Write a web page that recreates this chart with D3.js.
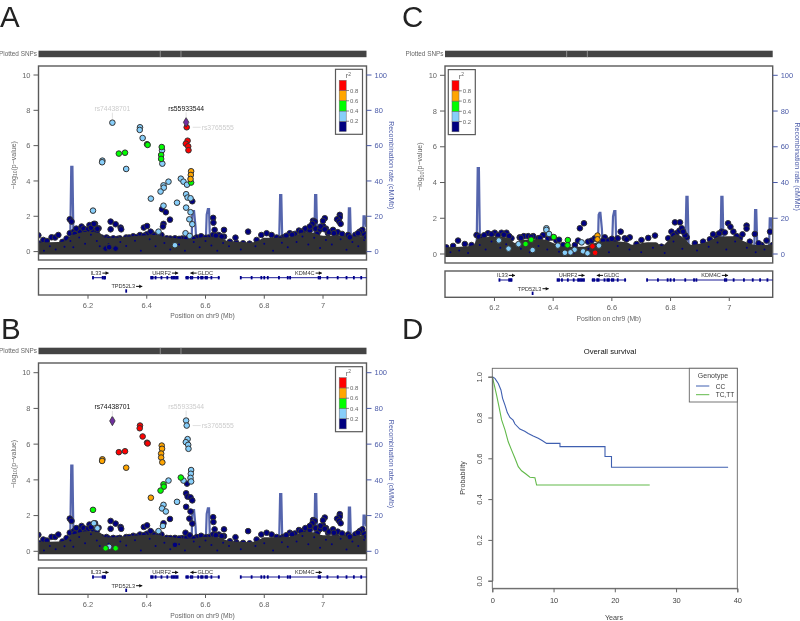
<!DOCTYPE html>
<html>
<head>
<meta charset="utf-8">
<script src="https://cdn.jsdelivr.net/npm/d3@7"></script>
<style>
  html, body { margin: 0; padding: 0; background: #fff; }
  svg { display: block; font-family: "Liberation Sans", Arial, sans-serif; filter: blur(0.3px); }
</style>
</head>
<body>
<svg id="chart" width="800" height="621"></svg>
<script>
// SNPs that stand out of the cloud in panels A and B (same p-values, different LD colouring)
var abPos = [6.283,6.534,6.536,6.377,6.376,6.386,6.401,6.403,6.539,6.533,6.541,6.542,6.451,6.452,6.449,6.449,6.453,6.326,6.305,6.249,6.248,6.330,6.551,6.550,6.549,6.551,6.516,6.525,6.537,6.474,6.457,6.458,6.447,6.414,6.503,6.457,6.452,6.465,6.534,6.539,6.549,6.555,6.534,6.549,6.545,6.555,6.217,6.479,6.457,6.455,6.440,6.532,6.546,6.496,6.138,6.144,6.277,6.294,6.277,6.311,6.313,6.390,6.401,6.413,6.626,6.627,6.663,6.631,6.745,6.702,7.057,7.057,7.048,7.055,7.060,7.006,7.000,6.966,6.972,6.964,6.955,6.992,7.006,7.034,7.037,7.134,7.125,7.119,7.085,7.091,7.148,6.031,6.220,6.232,6.260,6.294,6.272];
var abLogP = [7.30,7.32,7.04,7.04,6.89,6.43,6.08,6.04,6.28,6.11,5.96,5.74,5.92,5.74,5.47,5.25,4.98,5.60,5.55,5.15,5.06,4.68,4.55,4.34,4.11,3.91,4.13,3.96,3.79,3.96,3.75,3.62,3.40,3.00,2.77,2.60,2.40,2.23,3.25,3.06,3.02,2.85,2.49,2.23,1.83,1.55,2.32,1.81,1.57,1.42,1.13,1.04,0.89,0.36,1.83,1.70,1.70,1.55,1.26,1.36,1.26,1.36,1.45,1.13,1.91,1.64,1.23,1.23,1.13,0.79,2.08,1.94,1.83,1.70,1.57,1.89,1.74,1.75,1.70,1.57,1.42,1.42,1.26,1.23,1.04,1.23,1.13,1.04,0.94,0.81,0.81,0.92,1.57,1.29,0.17,0.17,0.25];
var abR2A = [0.3,1,0.9,0.3,0.3,0.3,0.5,0.5,0.9,0.9,0.9,0.9,0.5,0.3,0.5,0.5,0.3,0.5,0.5,0.3,0.3,0.3,0.7,0.7,0.7,0.5,0.3,0.3,0.3,0.3,0.3,0.3,0.3,0.3,0.3,0.3,0.1,0.1,0.3,0.3,0.3,0.1,0.3,0.3,0.3,0.3,0.3,0.1,0.1,0.1,0.3,0.3,0.3,0.3,0.1,0.1,0.1,0.1,0.1,0.1,0.1,0.1,0.1,0.1,0.1,0.1,0.1,0.1,0.1,0.1,0.1,0.1,0.1,0.1,0.1,0.1,0.1,0.1,0.1,0.1,0.1,0.1,0.1,0.1,0.1,0.1,0.1,0.1,0.1,0.1,0.1,0.1,0.1,0.1,0.1,0.1,0.1];
var abR2B = [1,0.3,0.3,0.9,0.9,0.9,0.9,0.9,0.3,0.3,0.3,0.3,0.7,0.7,0.7,0.7,0.7,0.9,0.9,0.7,0.7,0.7,0.3,0.3,0.3,0.3,0.5,0.3,0.1,0.3,0.5,0.5,0.5,0.7,0.3,0.3,0.3,0.3,0.1,0.1,0.1,0.1,0.1,0.1,0.1,0.1,0.5,0.1,0.1,0.3,0.3,0.1,0.1,0.1,0.1,0.1,0.1,0.1,0.1,0.1,0.1,0.1,0.1,0.1,0.1,0.1,0.1,0.1,0.1,0.1,0.1,0.1,0.1,0.1,0.1,0.1,0.1,0.1,0.1,0.1,0.1,0.1,0.1,0.1,0.1,0.1,0.1,0.1,0.1,0.1,0.1,0.1,0.3,0.3,0.5,0.5,0.3];

// top edge of the crowded cloud, A and B
var abEdgePos = [6.036,6.048,6.06,6.076,6.088,6.099,6.113,6.127,6.138,6.152,6.165,6.173,6.178,6.193,6.205,6.216,6.224,6.236,6.246,6.263,6.286,6.308,6.33,6.354,6.377,6.40,6.417,6.434,6.45,6.468,6.496,6.52,6.547,6.57,6.585,6.61,6.626,6.645,6.663,6.683,6.705,6.728,6.75,6.774,6.79,6.808,6.825,6.842,6.864,6.887,6.904,6.918,6.935,6.949,6.983,7.017,7.046,7.068,7.102,7.119,7.142,6.16,6.185,6.20,6.21,6.19,6.155,6.23,6.94,6.955,6.965,6.975,6.98,6.99,7.00,7.01,7.02,7.04,7.05,7.065,7.09,7.11,7.13,7.14,6.27,6.30,6.34,6.365,6.39,6.425,6.44,6.48,6.51,6.535,6.56,6.60,6.635,6.655,6.855,6.875,6.895,6.925];
var abEdgeLogP = [0.45,0.66,0.60,0.81,0.80,0.94,0.55,0.74,1.04,1.13,1.20,1.13,1.42,1.23,1.50,1.23,1.57,1.32,0.80,0.80,0.75,0.75,0.80,0.87,0.94,0.98,1.04,0.94,0.94,0.75,0.75,0.74,0.80,0.80,0.87,0.80,0.94,0.94,0.85,0.56,0.50,0.47,0.45,0.66,0.94,1.04,0.94,0.80,0.80,1.04,1.00,1.19,1.19,1.23,1.13,1.04,0.80,0.80,0.74,0.74,0.80,1.30,1.30,1.25,1.35,1.05,1.00,1.15,1.30,1.20,1.45,1.30,1.00,1.25,1.45,1.30,1.10,1.00,1.10,1.00,0.80,0.95,1.05,1.00,0.72,0.72,0.80,0.82,0.90,0.92,0.95,0.74,0.72,0.75,0.72,0.78,0.90,0.85,0.72,0.90,0.95,1.12];
var abMassX = [6.03,6.10,6.125,6.14,6.16,6.18,6.20,6.24,6.255,6.28,6.30,6.40,6.44,6.46,6.48,6.50,6.55,6.60,6.65,6.68,6.72,6.75,6.78,6.80,6.85,6.90,6.93,6.96,7.00,7.05,7.10,7.15];
var abMassTop = [0.52,0.55,0.62,0.88,1.00,1.10,1.12,1.05,0.80,0.78,0.80,0.92,0.94,0.82,0.80,0.76,0.70,0.82,0.76,0.58,0.54,0.52,0.62,0.78,0.78,0.85,1.08,1.08,0.90,0.90,0.85,0.90];
var abSpeckPos = [6.05,6.07,6.09,6.12,6.14,6.15,6.17,6.19,6.21,6.23,6.24,6.27,6.29,6.31,6.33,6.36,6.38,6.41,6.43,6.46,6.48,6.51,6.53,6.56,6.58,6.60,6.62,6.64,6.66,6.68,6.72,6.77,6.80,6.83,6.86,6.88,6.91,6.93,6.95,6.97,6.99,7.01,7.03,7.06,7.08,7.10,7.12,7.14];
var abSpeckLogP = [0.05,0.30,0.12,0.28,0.60,0.25,0.80,0.45,0.95,0.60,0.30,0.42,0.10,0.55,0.32,0.62,0.05,0.70,0.30,0.48,0.12,0.40,0.05,0.55,0.25,0.60,0.35,0.05,0.48,0.30,0.12,0.30,0.45,0.05,0.50,0.25,0.55,0.85,0.40,0.78,0.20,0.65,0.40,0.70,0.10,0.55,0.30,0.65];

// panel C
var cPos = [6.377,6.377,6.386,6.402,6.450,6.449,6.325,6.306,6.282,6.330,6.248,6.215,6.416,6.473,6.459,6.440,6.502,6.497,6.551,6.551,6.534,6.543,6.556,6.517,6.505,6.491,6.815,6.832,6.838,6.843];
var cLogP = [1.44,1.35,1.12,0.95,0.78,0.49,0.80,0.56,0.55,0.22,0.30,0.76,0.47,0.24,0.09,0.07,0.15,0.65,1.03,0.82,0.43,0.07,0.47,0.04,1.72,1.44,1.77,1.77,1.44,1.25];
var cR2 = [0.3,0.3,0.3,0.5,0.5,0.5,0.5,0.5,0.3,0.3,0.3,0.3,0.3,0.3,0.3,0.3,0.3,0.3,0.7,0.7,0.9,0.9,0.3,0.3,0.1,0.1,0.1,0.1,0.1,0.1];
var cEdgePos = [6.036,6.059,6.076,6.099,6.122,6.139,6.147,6.161,6.178,6.201,6.224,6.241,6.258,6.286,6.30,6.315,6.332,6.349,6.366,6.383,6.411,6.434,6.474,6.485,6.519,6.531,6.542,6.576,6.588,6.61,6.63,6.644,6.661,6.684,6.701,6.724,6.747,6.769,6.792,6.803,6.82,6.855,6.883,6.911,6.934,6.957,6.974,6.996,7.004,7.014,7.036,7.059,7.059,7.07,7.087,7.11,7.127,7.139,7.148,6.165,6.19,6.212,6.232,6.25,6.29,6.325,6.355,6.395,6.42,6.57,6.60,6.62,6.65,6.81,6.83,6.85,6.945,6.965,6.985,7.025,7.045,7.10];
var cEdgeLogP = [0.37,0.45,0.75,0.56,0.50,1.06,0.97,0.93,1.16,1.19,1.19,1.19,0.88,0.93,1.00,1.00,1.00,0.88,1.06,0.88,0.75,0.50,0.50,0.75,0.69,0.75,0.88,0.93,0.75,0.78,1.25,0.88,0.93,0.56,0.78,0.90,1.03,0.41,0.88,1.25,1.16,0.93,0.60,0.69,0.82,0.93,1.25,1.72,1.52,1.25,0.88,1.59,1.42,0.69,1.12,0.50,0.75,1.25,0.50,1.05,1.10,1.05,1.08,1.00,0.90,0.95,0.90,0.92,0.80,0.75,0.85,0.88,0.82,1.05,1.30,1.05,1.10,1.15,1.20,1.00,1.10,0.60];
var cMassX = [6.03,6.10,6.13,6.14,6.20,6.25,6.27,6.30,6.36,6.40,6.43,6.50,6.53,6.56,6.60,6.65,6.67,6.72,6.75,6.77,6.79,6.82,6.85,6.87,6.92,6.97,7.02,7.05,7.10,7.15];
var cMassTop = [0.38,0.42,0.50,0.82,0.98,0.90,0.62,0.80,0.82,0.62,0.42,0.40,0.55,0.68,0.72,0.66,0.52,0.66,0.66,0.45,0.72,1.10,0.82,0.52,0.66,0.98,1.00,0.72,0.50,0.55];
var cSpeckPos = [6.05,6.08,6.11,6.15,6.17,6.19,6.22,6.24,6.29,6.32,6.35,6.38,6.42,6.47,6.52,6.56,6.59,6.62,6.66,6.70,6.74,6.78,6.81,6.84,6.89,6.93,6.96,6.99,7.02,7.06,7.09,7.12];
var cSpeckLogP = [0.10,0.20,0.05,0.50,0.25,0.70,0.35,0.55,0.30,0.10,0.45,0.25,0.12,0.05,0.30,0.40,0.10,0.45,0.25,0.10,0.35,0.05,0.70,0.30,0.20,0.40,0.65,0.25,0.70,0.35,0.10,0.25];

// recombination rate, same map in every locus panel
var recPos = [6.03,6.139,6.143,6.147,6.151,6.40,6.552,6.555,6.558,6.561,6.566,6.57,6.60,6.604,6.608,6.612,6.616,6.85,6.854,6.858,6.862,6.97,6.973,6.977,6.981,7.085,7.088,7.092,7.096,7.135,7.138,7.142,7.146];
var recRate = [0.5,0.5,48,48,0.5,0.5,0.5,22,23,23,14,0.5,0.5,21,24,24,0.5,0.5,32,32,0.5,0.5,32,32,0.5,0.5,24.5,24.5,0.5,0.5,20,20,14];

var yTicks = [0,2,4,6,8,10];
var recTicks = [0,20,40,60,80,100];
var posTicks = [6.2,6.4,6.6,6.8,7];
var r2Breaks = [0.2,0.4,0.6,0.8];
var r2Colors = ["#000080","#87cefa","#00ff00","#ffa500","#ff0000"];

// genes
var geneNames = ["IL33","UHRF2","GLDC","KDM4C","TPD52L3"];
var geneStart = [6.215,6.413,6.531,6.719,6.330];
var geneEnd = [6.261,6.505,6.649,7.148,6.330];
var geneRow = [0,0,0,0,1];
var geneDir = [1,1,-1,1,1];
var geneLabelAt = [6.227,6.4506,6.599,6.938,6.32];
var exonPos = [6.217,6.25,6.255,6.258,6.415,6.42,6.43,6.45,6.47,6.485,6.49,6.495,6.50,6.505,6.535,6.54,6.55,6.555,6.575,6.585,6.59,6.60,6.605,6.62,6.645,6.72,6.757,6.79,6.80,6.812,6.85,6.88,6.888,6.985,6.99,7.015,7.05,7.08,7.105,7.13,6.33];
var exonRow = [0,0,0,0,0,0,0,0,0,0,0,0,0,0,0,0,0,0,0,0,0,0,0,0,0,0,0,0,0,0,0,0,0,0,0,0,0,0,0,0,1];

// survival, panel D
var ccYears = [0,0.43,0.98,1.41,1.68,2.07,2.45,2.88,3.4,3.7,4.5,5.3,5.87,6.68,7.5,8.2,8.86,11.05,11.05,18.4,18.4,19.46,19.46,38.5];
var ccSurv = [1,0.992,0.967,0.935,0.894,0.861,0.824,0.80,0.787,0.768,0.743,0.733,0.722,0.709,0.698,0.686,0.673,0.673,0.657,0.657,0.609,0.609,0.556,0.556];
var ttYears = [0,0.33,0.7,1.09,1.52,2.07,2.6,3.15,3.7,4.24,4.78,5.49,6.14,6.96,7.23,25.7];
var ttSurv = [1,0.959,0.91,0.853,0.788,0.739,0.681,0.64,0.60,0.559,0.539,0.523,0.507,0.505,0.469,0.469];

var svg = d3.select("#chart");
var recBlue = "#4a5aa8";
var axisGrey = "#5a5a5a";
var textGrey = "#666";
var color = d3.scaleThreshold().domain(r2Breaks).range(r2Colors);

function zip(a, b, c) {
  return a.map(function(v, i) { return { pos: v, p: b[i], r2: c ? c[i] : 0.1 }; });
}

function locusPanel(cfg) {
  var g = svg.append("g");
  var x = d3.scaleLinear().domain([6.0315, 7.148]).range([cfg.left, cfg.right]);
  var y = d3.scaleLinear().domain([0, 10]).range([cfg.y0, cfg.y10]);
  var yRec = d3.scaleLinear().domain([0, 100]).range([cfg.y0, cfg.y10]);

  // plotted snps strip
  g.append("text").attr("x", cfg.left - 1.5).attr("y", cfg.stripTop + 4.8)
    .attr("text-anchor", "end").attr("font-size", 6.4).attr("fill", textGrey).text("Plotted SNPs");
  g.append("rect").attr("x", cfg.left).attr("y", cfg.stripTop)
    .attr("width", cfg.right - cfg.left).attr("height", 6.5).attr("fill", "#444");
  [6.446, 6.5165].forEach(function(d) {
    g.append("line").attr("x1", x(d)).attr("x2", x(d)).attr("y1", cfg.stripTop).attr("y2", cfg.stripTop + 6.5)
      .attr("stroke", "#aaa").attr("stroke-width", 0.7);
  });

  var clipId = "clip-" + cfg.id;
  g.append("clipPath").attr("id", clipId).append("rect")
    .attr("x", cfg.left).attr("y", cfg.boxTop).attr("width", cfg.right - cfg.left).attr("height", cfg.boxBottom - cfg.boxTop);
  var plot = g.append("g").attr("clip-path", "url(#" + clipId + ")");

  // recombination line goes behind the snps
  plot.append("path").datum(recPos.map(function(d, i) { return [d, recRate[i]]; }))
    .attr("fill", "none").attr("stroke", "#5565ad").attr("stroke-width", 2.2)
    .attr("d", d3.line().x(function(d) { return x(d[0]); }).y(function(d) { return yRec(d[1]); }));

  function dots(data, r) {
    plot.append("g").selectAll("circle").data(data).enter().append("circle")
      .attr("cx", function(d) { return x(d.pos); })
      .attr("cy", function(d) { return y(d.p); })
      .attr("r", r)
      .attr("fill", function(d) { return color(d.r2); })
      .attr("stroke", "#333").attr("stroke-width", 1);
  }

  dots(zip(cfg.edgePos, cfg.edgeLogP), 2.8);

  // overlapping outlines merge to a solid mass near the baseline
  var mass = cfg.massX.map(function(d, i) { return [d, cfg.massTop[i]]; });
  plot.append("path").datum(mass).attr("fill", "#333")
    .attr("d", d3.area().x(function(d) { return x(d[0]); }).y0(y(-0.17)).y1(function(d) { return y(d[1]); }).curve(d3.curveMonotoneX));
  plot.append("g").selectAll("circle").data(zip(cfg.speckPos, cfg.speckLogP)).enter().append("circle")
    .attr("cx", function(d) { return x(d.pos); }).attr("cy", function(d) { return y(d.p); })
    .attr("r", 1).attr("fill", "#000080");

  var points = cfg.points.filter(function(d) { return d.r2 < 1; });
  points.sort(function(a, b) { return a.r2 - b.r2; });
  dots(points, 2.8);

  // lead snp diamond
  cfg.points.filter(function(d) { return d.r2 === 1; }).forEach(function(d) {
    plot.append("path").attr("transform", "translate(" + x(d.pos) + "," + y(d.p) + ")")
      .attr("d", d3.symbol().type(d3.symbolDiamond).size(26)())
      .attr("fill", "#7030a0").attr("stroke", "#333").attr("stroke-width", 0.8);
  });

  // frame and axes
  g.append("rect").attr("x", cfg.left).attr("y", cfg.boxTop)
    .attr("width", cfg.right - cfg.left).attr("height", cfg.boxBottom - cfg.boxTop)
    .attr("fill", "none").attr("stroke", axisGrey).attr("stroke-width", 1.4);

  yTicks.forEach(function(t) {
    g.append("line").attr("x1", cfg.left - 5).attr("x2", cfg.left).attr("y1", y(t)).attr("y2", y(t)).attr("stroke", axisGrey);
    g.append("text").attr("x", cfg.left - 8).attr("y", y(t) + 2.7).attr("text-anchor", "end")
      .attr("font-size", 7.5).attr("fill", textGrey).text(t);
  });
  recTicks.forEach(function(t) {
    g.append("line").attr("x1", cfg.right).attr("x2", cfg.right + 5).attr("y1", yRec(t)).attr("y2", yRec(t)).attr("stroke", recBlue);
    g.append("text").attr("x", cfg.right + 8).attr("y", yRec(t) + 2.7)
      .attr("font-size", 7.5).attr("fill", recBlue).text(t);
  });

  var midY = (cfg.y0 + cfg.y10) / 2 + 2;
  var yt = g.append("text").attr("transform", "translate(" + (cfg.left - 23) + "," + midY + ") rotate(-90)")
    .attr("text-anchor", "middle").attr("font-size", 7).attr("fill", textGrey);
  yt.append("tspan").text("\u2212log");
  yt.append("tspan").attr("font-size", 5).attr("dy", 1.5).text("10");
  yt.append("tspan").attr("dy", -1.5).text("(p\u2212value)");
  g.append("text").attr("transform", "translate(" + (cfg.right + 22) + "," + midY + ") rotate(90)")
    .attr("text-anchor", "middle").attr("font-size", 7).attr("fill", recBlue).text("Recombination rate (cM/Mb)");

  // snp labels
  cfg.labels.forEach(function(d) {
    var px = x(d.pos), py = y(d.p);
    if (d.side) {
      g.append("line").attr("x1", px + 6).attr("x2", px + 14).attr("y1", py).attr("y2", py).attr("stroke", "#ccc").attr("stroke-width", 0.6);
      g.append("text").attr("x", px + 15).attr("y", py + 2.4).attr("font-size", 6.8).attr("fill", d.c).text(d.name);
    } else {
      g.append("line").attr("x1", px).attr("x2", px).attr("y1", py - 10).attr("y2", py - 4).attr("stroke", "#ccc").attr("stroke-width", 0.6);
      g.append("text").attr("x", px).attr("y", py - 11.5).attr("text-anchor", "middle").attr("font-size", 6.8).attr("fill", d.c).text(d.name);
    }
  });

  // r2 legend
  var legX = cfg.legendX, legY = cfg.legendY;
  g.append("rect").attr("x", legX).attr("y", legY).attr("width", 27).attr("height", 65)
    .attr("fill", "#fff").attr("stroke", axisGrey).attr("stroke-width", 1.2);
  var legScale = d3.scaleLinear().domain([0, 1]).range([legY + 62.2, legY + 11]);
  r2Colors.forEach(function(c, i) {
    g.append("rect").attr("x", legX + 3.7).attr("y", legScale((i + 1) / 5)).attr("width", 7)
      .attr("height", legScale(i / 5) - legScale((i + 1) / 5)).attr("fill", c).attr("stroke", "#666").attr("stroke-width", 0.5);
  });
  r2Breaks.forEach(function(b) {
    g.append("line").attr("x1", legX + 10.7).attr("x2", legX + 13.5).attr("y1", legScale(b)).attr("y2", legScale(b)).attr("stroke", "#555").attr("stroke-width", 0.7);
    g.append("text").attr("x", legX + 14.5).attr("y", legScale(b) + 2.2).attr("font-size", 6).attr("fill", textGrey).text(b);
  });
  var r2t = g.append("text").attr("x", legX + 13).attr("y", legY + 9).attr("text-anchor", "middle")
    .attr("font-size", 7.5).attr("fill", textGrey).text("r");
  r2t.append("tspan").attr("font-size", 5).attr("dy", -2.5).text("2");

  // gene track
  g.append("rect").attr("x", cfg.left).attr("y", cfg.geneTop).attr("width", cfg.right - cfg.left).attr("height", 26.3)
    .attr("fill", "#fff").attr("stroke", axisGrey).attr("stroke-width", 1.4);
  var geneY = function(row) { return cfg.geneTop + 9 + row * 13.3; };
  geneNames.forEach(function(name, i) {
    g.append("line").attr("x1", x(geneStart[i])).attr("x2", x(geneEnd[i]))
      .attr("y1", geneY(geneRow[i])).attr("y2", geneY(geneRow[i])).attr("stroke", "#00008b").attr("stroke-width", 0.9);
    var tx = x(geneLabelAt[i]), ty = geneY(geneRow[i]) - 2.7;
    var t = g.append("text").attr("x", tx).attr("y", ty).attr("text-anchor", "middle").attr("font-size", 5.6).attr("fill", "#333").text(name);
    var w = t.node().getComputedTextLength();
    var ax0 = geneDir[i] > 0 ? tx + w / 2 + 1 : tx - w / 2 - 7;
    var ax1 = ax0 + 6.2;
    var ay = ty - 1.9;
    var tipX = geneDir[i] > 0 ? ax1 : ax0;
    g.append("line").attr("x1", ax0).attr("x2", ax1).attr("y1", ay).attr("y2", ay).attr("stroke", "#111").attr("stroke-width", 1);
    g.append("path").attr("d", "M" + tipX + "," + ay + "l" + (-3 * geneDir[i]) + ",-1.8v3.6z").attr("fill", "#111");
  });
  exonPos.forEach(function(d, i) {
    g.append("rect").attr("x", x(d) - 0.9).attr("y", geneY(exonRow[i]) - 1.7).attr("width", 1.8).attr("height", 3.4).attr("fill", "#00008b");
  });

  posTicks.forEach(function(t) {
    g.append("line").attr("x1", x(t)).attr("x2", x(t)).attr("y1", cfg.geneTop + 26.3).attr("y2", cfg.geneTop + 30).attr("stroke", axisGrey);
    g.append("text").attr("x", x(t)).attr("y", cfg.geneTop + 39).attr("text-anchor", "middle")
      .attr("font-size", 7.5).attr("fill", textGrey).text(t);
  });
  g.append("text").attr("x", (cfg.left + cfg.right) / 2).attr("y", cfg.geneTop + 49.5)
    .attr("text-anchor", "middle").attr("font-size", 6.8).attr("fill", textGrey).text("Position on chr9 (Mb)");
}

function withR2(which) { return zip(abPos, abLogP, which); }

locusPanel({ id: "a", left: 38.5, right: 366.5, y0: 251.6, y10: 75, boxTop: 66, boxBottom: 260, stripTop: 50.7, geneTop: 268.7,
  legendX: 335.5, legendY: 69.3, points: withR2(abR2A), edgePos: abEdgePos, edgeLogP: abEdgeLogP, massX: abMassX, massTop: abMassTop, speckPos: abSpeckPos, speckLogP: abSpeckLogP,
  labels: [{ name: "rs74438701", pos: 6.283, p: 7.30, c: "#ccc" }, { name: "rs55933544", pos: 6.534, p: 7.32, c: "#111" }, { name: "rs3765555", pos: 6.536, p: 7.04, c: "#ccc", side: true }] });

locusPanel({ id: "b", left: 38.5, right: 366.5, y0: 551.3, y10: 372.7, boxTop: 363, boxBottom: 560, stripTop: 347.7, geneTop: 568,
  legendX: 335.5, legendY: 366.7, points: withR2(abR2B), edgePos: abEdgePos, edgeLogP: abEdgeLogP, massX: abMassX, massTop: abMassTop, speckPos: abSpeckPos, speckLogP: abSpeckLogP,
  labels: [{ name: "rs74438701", pos: 6.283, p: 7.30, c: "#111" }, { name: "rs55933544", pos: 6.534, p: 7.32, c: "#ccc" }, { name: "rs3765555", pos: 6.536, p: 7.04, c: "#ccc", side: true }] });

locusPanel({ id: "c", left: 445, right: 772.7, y0: 254, y10: 75.3, boxTop: 66, boxBottom: 263, stripTop: 50.7, geneTop: 271,
  legendX: 448.3, legendY: 69.6, points: zip(cPos, cLogP, cR2), edgePos: cEdgePos, edgeLogP: cEdgeLogP, massX: cMassX, massTop: cMassTop, speckPos: cSpeckPos, speckLogP: cSpeckLogP,
  labels: [] });

// panel D, survival curves
(function() {
  var g = svg.append("g");
  var x = d3.scaleLinear().domain([0, 40]).range([492.3, 737.3]);
  var y = d3.scaleLinear().domain([0, 1]).range([580.7, 376.7]);
  var line = d3.line().x(function(d) { return x(d[0]); }).y(function(d) { return y(d[1]); });

  g.append("path").datum(ccYears.map(function(d, i) { return [d, ccSurv[i]]; }))
    .attr("fill", "none").attr("stroke", "#3f5fb0").attr("stroke-width", 1.1).attr("d", line);
  g.append("path").datum(ttYears.map(function(d, i) { return [d, ttSurv[i]]; }))
    .attr("fill", "none").attr("stroke", "#62b94a").attr("stroke-width", 1.1).attr("d", line);

  g.append("rect").attr("x", 492.3).attr("y", 368.3).attr("width", 245).attr("height", 220)
    .attr("fill", "none").attr("stroke", "#666").attr("stroke-width", 0.9);

  // axes, R style
  var xAxis = g.append("g").attr("transform", "translate(0,588.3)")
    .call(d3.axisBottom(x).tickValues([0, 10, 20, 30, 40]).tickSize(4).tickFormat(d3.format("d")));
  xAxis.select(".domain").attr("stroke", "#666");
  xAxis.selectAll("line").attr("stroke", "#666");
  xAxis.selectAll("text").attr("font-size", 7.5).attr("fill", "#444").attr("font-family", "Liberation Sans").attr("y", 9);

  var yAxis = g.append("g").attr("transform", "translate(492.3,0)")
    .call(d3.axisLeft(y).tickValues([0, 0.2, 0.4, 0.6, 0.8, 1]).tickSize(4).tickFormat(d3.format(".1f")));
  yAxis.select(".domain").attr("stroke", "#666");
  yAxis.selectAll("line").attr("stroke", "#666");
  yAxis.selectAll("text").attr("font-size", 7.5).attr("fill", "#444").attr("font-family", "Liberation Sans")
    .attr("text-anchor", "middle").attr("dy", 0).attr("x", 0).attr("y", 0)
    .attr("transform", "translate(-10.5,0) rotate(-90)");

  g.append("text").attr("x", 610).attr("y", 354).attr("text-anchor", "middle").attr("font-size", 7.7).attr("fill", "#111").text("Overall survival");
  g.append("text").attr("x", 614).attr("y", 619.5).attr("text-anchor", "middle").attr("font-size", 7.2).attr("fill", "#444").text("Years");
  g.append("text").attr("transform", "translate(465,478) rotate(-90)").attr("text-anchor", "middle").attr("font-size", 7.2).attr("fill", "#444").text("Probability");

  // legend
  g.append("rect").attr("x", 689.3).attr("y", 368.3).attr("width", 48).attr("height", 33.7).attr("fill", "#fff").attr("stroke", "#666").attr("stroke-width", 0.9);
  g.append("text").attr("x", 713).attr("y", 378).attr("text-anchor", "middle").attr("font-size", 7).attr("fill", "#444").text("Genotype");
  g.append("line").attr("x1", 696).attr("x2", 709.3).attr("y1", 386).attr("y2", 386).attr("stroke", "#3f5fb0");
  g.append("line").attr("x1", 696).attr("x2", 709.3).attr("y1", 394.7).attr("y2", 394.7).attr("stroke", "#62b94a");
  g.append("text").attr("x", 715.7).attr("y", 388.7).attr("font-size", 6.5).attr("fill", "#333").text("CC");
  g.append("text").attr("x", 715.7).attr("y", 397.4).attr("font-size", 6.5).attr("fill", "#333").text("TC,TT");
})();

// panel letters
[["A", 0, 27], ["B", 1, 339], ["C", 402, 27], ["D", 402, 339]].forEach(function(d) {
  svg.append("text").attr("x", d[1]).attr("y", d[2]).attr("font-size", 29.5).attr("fill", "#222").text(d[0]);
});
</script>
</body>
</html>
